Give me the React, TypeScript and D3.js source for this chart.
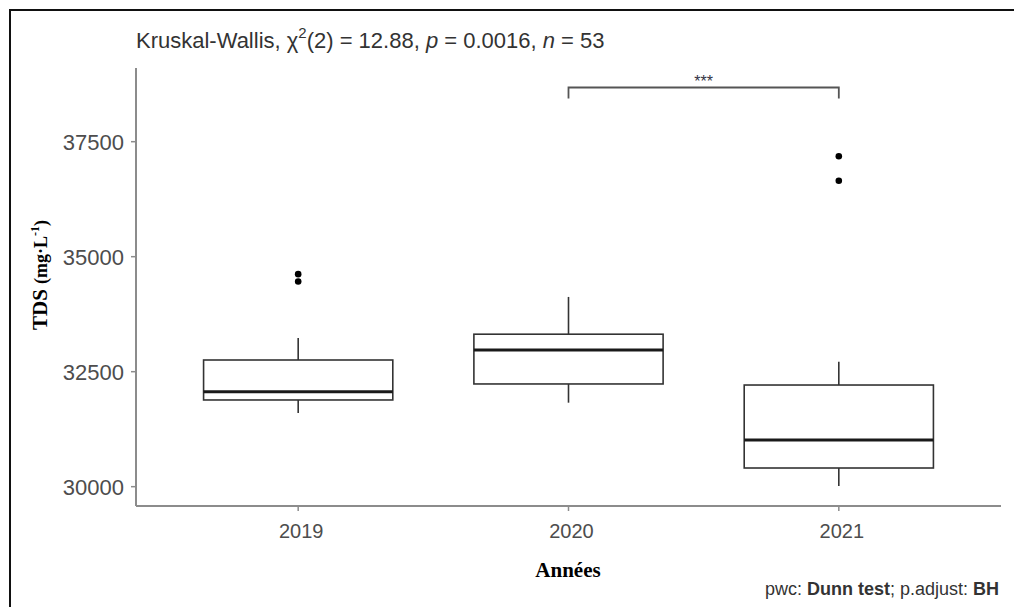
import React from "react";
import * as d3 from "d3";

const years = ["2019", "2020", "2021"];
const whiskerLow = [31600, 31826, 30015];
const q1 = [31885, 32233, 30406];
const median = [32065, 32970, 31015];
const q3 = [32754, 33315, 32210];
const whiskerHigh = [33233, 34125, 32717];
const outliers2019 = [34620, 34460];
const outliers2020: number[] = [];
const outliers2021 = [37185, 36652];
const outliers = [outliers2019, outliers2020, outliers2021];
const yTicks = [30000, 32500, 35000, 37500];

const W = 1014;
const H = 607;

export default function App() {
  const y = d3.scaleLinear().domain([29580, 39102]).range([506, 68]);
  const x = d3.scaleLinear().domain([0.4, 3.6]).range([136, 1001]);
  const half = 0.35;
  const boxColor = "#333333";
  const axisColor = "#8c8c8c";
  const tickText = "#4d4d4d";
  const sans = "'Liberation Sans', Arial, sans-serif";
  const serif = "'Liberation Serif', 'Times New Roman', serif";

  const x2020 = x(2);
  const x2021 = x(3);
  const bracketY = 87.5;

  return (
    <div style={{ position: "fixed", left: 0, top: 0 }}>
      <svg width={W} height={H} style={{ display: "block", background: "#fff" }}>
        <rect x={0} y={0} width={W} height={H} fill="#fff" />
        {/* frame */}
        <rect x={10} y={10} width={W + 20} height={H + 20} fill="none" stroke="#111" strokeWidth={2} />

        {/* title */}
        <text x={136} y={48} fontFamily={sans} fontSize={22} fill="#333">
          Kruskal-Wallis, χ
          <tspan dy={-10} fontSize={15}>2</tspan>
          <tspan dy={10}>(2) = 12.88, </tspan>
          <tspan fontStyle="italic">p</tspan>
          <tspan> = 0.0016, </tspan>
          <tspan fontStyle="italic">n</tspan>
          <tspan> = 53</tspan>
        </text>

        {/* axes */}
        <line x1={136} x2={136} y1={68} y2={506} stroke={axisColor} strokeWidth={2} />
        <line x1={136} x2={1001} y1={506} y2={506} stroke={axisColor} strokeWidth={2} />

        {yTicks.map((t) => (
          <g key={t}>
            <line x1={131} x2={136} y1={y(t)} y2={y(t)} stroke={axisColor} strokeWidth={1.5} />
            <text x={124} y={y(t)} dy="0.36em" textAnchor="end" fontFamily={sans} fontSize={22} fill={tickText}>
              {t}
            </text>
          </g>
        ))}

        {years.map((yr, i) => (
          <g key={yr}>
            <line x1={x(i + 1)} x2={x(i + 1)} y1={506} y2={511} stroke={axisColor} strokeWidth={1.5} />
            <text x={x(i + 1) + 3} y={538} textAnchor="middle" fontFamily={sans} fontSize={20} fill={tickText}>
              {yr}
            </text>
          </g>
        ))}

        {/* boxes */}
        {years.map((yr, i) => {
          const cx = x(i + 1);
          const x0 = x(i + 1 - half);
          const x1 = x(i + 1 + half);
          return (
            <g key={"b" + yr}>
              <line x1={cx} x2={cx} y1={y(whiskerHigh[i])} y2={y(q3[i])} stroke={boxColor} strokeWidth={1.6} />
              <line x1={cx} x2={cx} y1={y(q1[i])} y2={y(whiskerLow[i])} stroke={boxColor} strokeWidth={1.6} />
              <rect
                x={x0}
                y={y(q3[i])}
                width={x1 - x0}
                height={y(q1[i]) - y(q3[i])}
                fill="#fff"
                stroke={boxColor}
                strokeWidth={1.6}
              />
              <line x1={x0} x2={x1} y1={y(median[i])} y2={y(median[i])} stroke="#1a1a1a" strokeWidth={3} />
              {outliers[i].map((o, j) => (
                <circle key={j} cx={cx} cy={y(o)} r={3.3} fill="#000" />
              ))}
            </g>
          );
        })}

        {/* significance bracket */}
        <path
          d={`M${x2020},${bracketY + 11}V${bracketY}H${x2021}V${bracketY + 11}`}
          fill="none"
          stroke="#555"
          strokeWidth={1.8}
        />
        <text x={(x2020 + x2021) / 2} y={bracketY - 0.5} textAnchor="middle" fontFamily={sans} fontSize={16} fill="#334">
          ***
        </text>

        {/* axis titles */}
        <text x={568} y={577} textAnchor="middle" fontFamily={serif} fontWeight="bold" fontSize={21} fill="#000">
          Années
        </text>
        <text
          transform={`translate(47,275) rotate(-90)`}
          textAnchor="middle"
          fontFamily={serif}
          fontWeight="bold"
          fill="#000"
        >
          <tspan fontSize={21}>TDS </tspan>
          <tspan fontSize={18}>(mg·L</tspan>
          <tspan fontSize={12} dy={-8}>-1</tspan>
          <tspan fontSize={18} dy={8}>)</tspan>
        </text>

        {/* caption */}
        <text x={999} y={595} textAnchor="end" fontFamily={sans} fontSize={18} fill="#333">
          pwc: <tspan fontWeight="bold">Dunn test</tspan>; p.adjust: <tspan fontWeight="bold">BH</tspan>
        </text>
      </svg>
    </div>
  );
}
